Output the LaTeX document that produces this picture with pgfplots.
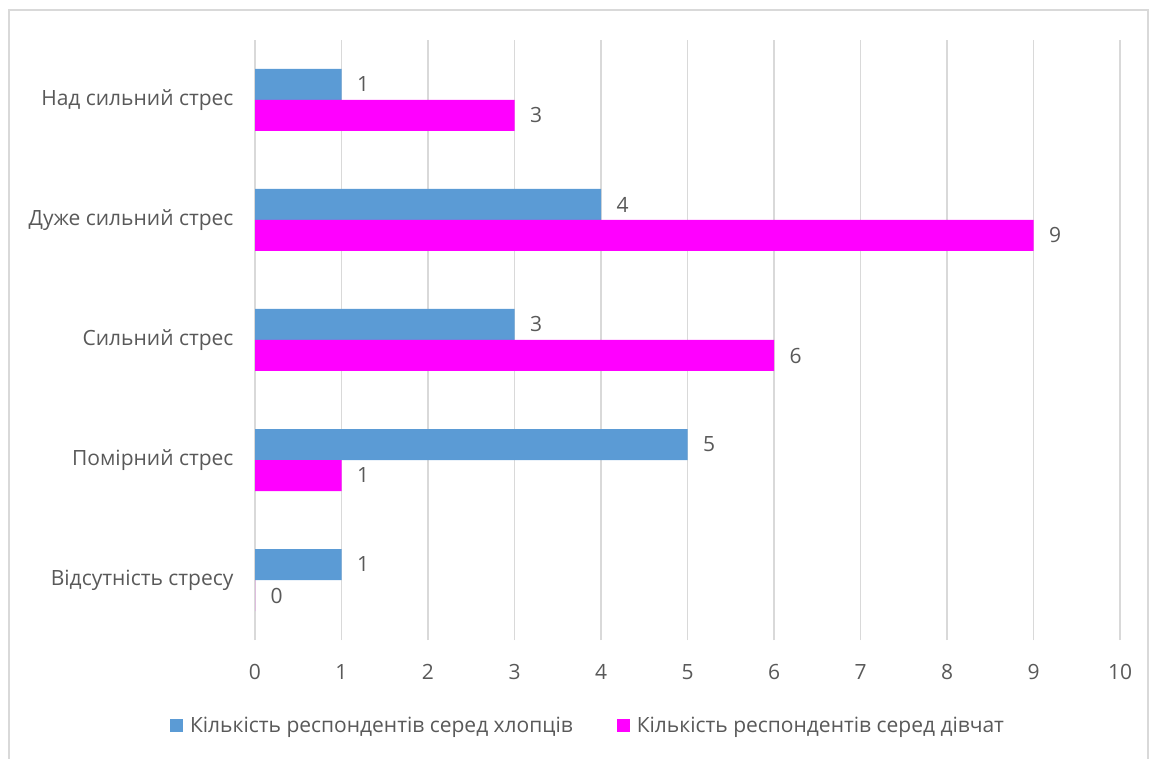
\documentclass[border=0pt]{standalone}
\usepackage{fontspec}
\setmainfont{Open Sans}
\usepackage{pgfplots}
\pgfplotsset{compat=1.18}
\definecolor{boys}{HTML}{5B9BD5}
\definecolor{girls}{HTML}{FF00FF}
\definecolor{gridc}{HTML}{D9D9D9}
\definecolor{txt}{HTML}{595959}
\begin{document}
\begin{tikzpicture}[x=1pt,y=1pt]
\useasboundingbox (0,0) rectangle (1150,758);
\draw[gridc,line width=1.5pt] (9,-20) -- (9,748) -- (1148,748) -- (1148,-20);
\begin{axis}[
  at={(255pt,118pt)}, anchor=south west,
  scale only axis, width=865pt, height=600pt,
  xbar, bar width=31pt,
  xmin=0, xmax=10, ymin=-0.5, ymax=4.5,
  xtick={0,1,...,10},
  ytick={0,1,2,3,4},
  yticklabels={Відсутність стресу,Помірний стрес,Сильний стрес,Дуже сильний стрес,Над сильний стрес},
  axis line style={draw=none},
  major tick length=0pt,
  xmajorgrids, grid style={gridc,line width=1.3pt},
  tick label style={font=\fontsize{21}{25}\selectfont, text=txt},
  /pgf/number format/assume math mode=true,
  xticklabel style={yshift=-21pt},
  yticklabel style={xshift=-18pt},
  legend style={at={(0.385,-0.142)}, anchor=center, draw=none, legend columns=2,
    font=\fontsize{21}{25}\selectfont, text=txt,
    /tikz/every even column/.append style={column sep=42pt}},
  legend image code/.code={\fill[#1] (0pt,-6.5pt) rectangle (13pt,6.5pt);},
  point meta=x,
  nodes near coords,
  every node near coord/.append style={font=\fontsize{21}{25}\selectfont, text=txt, xshift=12pt},
]
\addplot[bar shift=15.5pt, fill=boys, draw=none] coordinates {(1,0) (5,1) (3,2) (4,3) (1,4)};
\addlegendentry{\hspace{5pt}Кількість респондентів серед хлопців}
\addplot[bar shift=-15.5pt, fill=girls, draw=none] coordinates {(0,0) (1,1) (6,2) (9,3) (3,4)};
\addlegendentry{\hspace{5pt}Кількість респондентів серед дівчат}
\end{axis}
\end{tikzpicture}
\end{document}
